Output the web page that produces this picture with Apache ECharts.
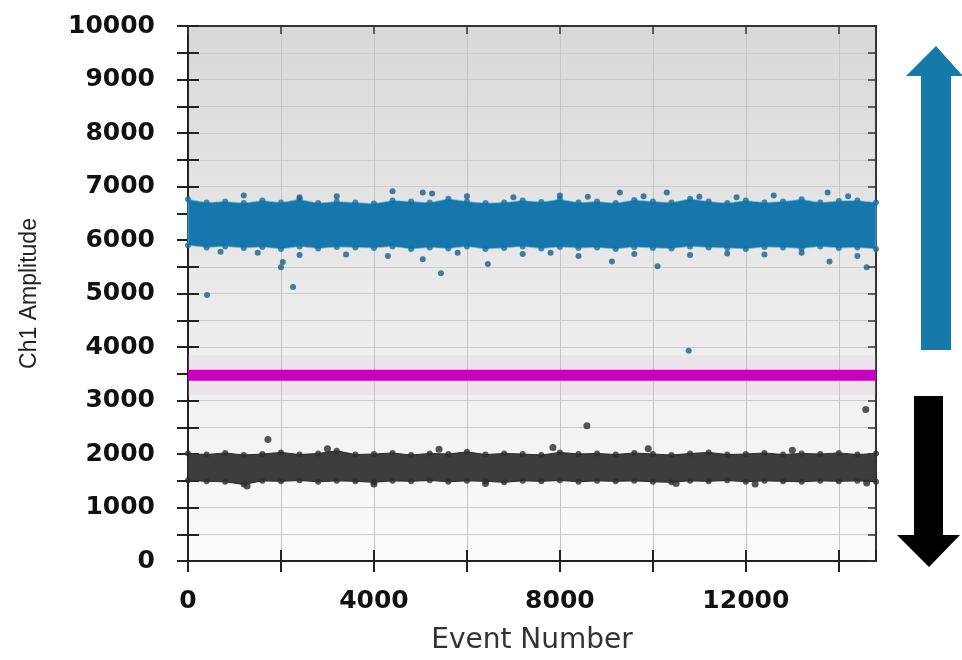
<!DOCTYPE html>
<html>
<head>
<meta charset="utf-8">
<script src="https://cdn.jsdelivr.net/npm/echarts@6/dist/echarts.min.js"></script>
<style>
html,body{margin:0;padding:0;background:#fff;}
#chart{width:962px;height:660px;}
</style>
</head>
<body>
<div id="chart"></div>
<script>
// ---- data ----
const eventBins = [0,400,800,1200,1600,2000,2400,2800,3200,3600,4000,4400,4800,5200,5600,6000,6400,6800,7200,7600,8000,8400,8800,9200,9600,10000,10400,10800,11200,11600,12000,12400,12800,13200,13600,14000,14400,14800];
// positive (blue) droplet cluster envelope
const blueTop    = [6760,6700,6720,6690,6740,6700,6760,6690,6720,6700,6680,6740,6720,6700,6770,6720,6690,6700,6740,6710,6760,6700,6720,6690,6750,6720,6700,6770,6720,6690,6740,6700,6720,6760,6700,6730,6740,6700];
const blueBottom = [5900,5860,5880,5850,5870,5830,5880,5840,5870,5860,5850,5880,5830,5860,5840,5880,5830,5850,5880,5840,5870,5850,5860,5830,5870,5850,5840,5880,5860,5850,5830,5870,5860,5840,5880,5850,5860,5830];
// negative (black) droplet cluster envelope
const blackTop    = [2010,1990,2020,1980,2000,2030,1990,2010,2060,1990,2000,2020,1980,2010,2000,2040,1990,2010,2000,1980,2030,2000,2010,1990,2020,2000,1980,2010,2030,1990,2000,2020,1990,2010,2000,2020,1990,2010];
const blackBottom = [1510,1490,1480,1430,1500,1490,1510,1480,1500,1490,1470,1500,1490,1510,1480,1500,1490,1470,1500,1490,1510,1480,1500,1490,1500,1480,1470,1500,1490,1510,1480,1500,1490,1480,1500,1490,1500,1480];
// scattered single droplets outside the dense bands
const blueOutX = [1200,2400,3200,4400,5050,5250,6000,7000,8000,8600,9290,9800,10300,11000,11800,12600,13760,14200,
                  410,700,1500,2000,2040,2260,2400,3400,4300,5050,5440,5800,6450,7200,7800,8400,9120,9600,10100,10800,11600,12400,13200,13800,14600,14400,10770];
const blueOutY = [6830,6800,6820,6910,6890,6870,6820,6800,6830,6810,6890,6820,6890,6810,6800,6830,6890,6820,
                  4970,5780,5760,5490,5590,5120,5720,5730,5700,5640,5380,5760,5550,5740,5760,5700,5600,5740,5510,5720,5750,5730,5760,5600,5490,5700,3930];
const blackOutX = [1720,7850,8580,14580,5400,9900,13000,3000,1270,4000,6400,10500,12200,14600];
const blackOutY = [2270,2120,2530,2830,2090,2100,2070,2100,1400,1440,1450,1450,1440,1460];
// threshold
const thresholdValue = 3470;
const xTickLabels = [0,4000,8000,12000];
const yTickLabels = [0,1000,2000,3000,4000,5000,6000,7000,8000,9000,10000];

const X_MAX = 14800;

function bandSeries(top, bottom, fill, stroke) {
  return {
    type: 'custom',
    xAxisIndex: 0, yAxisIndex: 0,
    data: eventBins.map((x, i) => [x, top[i], bottom[i]]),
    encode: { x: 0, y: [1, 2] },
    silent: true,
    z: 3,
    renderItem: function (params, api) {
      if (params.dataIndex !== 0) return null;
      const pts = [];
      for (let i = 0; i < eventBins.length; i++) pts.push(api.coord([eventBins[i], top[i]]));
      for (let i = eventBins.length - 1; i >= 0; i--) pts.push(api.coord([eventBins[i], bottom[i]]));
      return { type: 'polygon', shape: { points: pts }, style: { fill: fill, stroke: stroke, lineWidth: 1 } };
    }
  };
}
function edgeDots(top, bottom, color) {
  const d = [];
  eventBins.forEach((x, i) => { d.push([x, top[i]]); d.push([x, bottom[i]]); });
  return { type: 'scatter', data: d, symbolSize: 6, z: 4, silent: true,
           itemStyle: { color: color } };
}

const chart = echarts.init(document.getElementById('chart'), null, { renderer: 'canvas' });
const labelFont = { fontFamily: 'DejaVu Sans', fontWeight: 'bold', fontSize: 25, color: '#111' };
const tickStyle = { color: '#222', width: 2 };

chart.setOption({
  animation: false,
  backgroundColor: '#ffffff',
  grid: {
    left: 188, right: 86, top: 26, bottom: 97,
    show: true,
    borderWidth: 0,
    backgroundColor: new echarts.graphic.LinearGradient(0, 0, 0, 1, [
      { offset: 0, color: '#d8d8d8' },
      { offset: 0.55, color: '#ececec' },
      { offset: 1, color: '#fbfbfb' }
    ])
  },
  xAxis: [
    { type: 'value', position: 'bottom', min: 0, max: X_MAX, interval: 2000,
      name: 'Event Number', nameLocation: 'middle', nameGap: 66,
      nameTextStyle: { fontFamily: 'DejaVu Sans', fontSize: 28, color: '#333' },
      axisLine: { show: true, lineStyle: { color: '#222', width: 2 } },
      axisTick: { show: true, inside: false, length: 11, lineStyle: tickStyle },
      axisLabel: Object.assign({ margin: 28, showMaxLabel: false,
        formatter: v => (xTickLabels.indexOf(v) >= 0 ? String(v) : '') }, labelFont),
      splitLine: { show: true, lineStyle: { color: '#c4c4c4', width: 1 } } },
    { type: 'value', position: 'bottom', min: 0, max: X_MAX, interval: 2000,
      axisLine: { show: false }, axisTick: { show: true, inside: true, length: 11, lineStyle: tickStyle },
      axisLabel: { show: false }, splitLine: { show: false } },
    { type: 'value', position: 'top', min: 0, max: X_MAX, interval: 2000,
      axisLine: { show: true, onZero: false, lineStyle: { color: '#333', width: 2 } },
      axisTick: { show: true, inside: true, length: 8, lineStyle: { color: '#333', width: 1.5 } },
      axisLabel: { show: false }, splitLine: { show: false } }
  ],
  yAxis: [
    { type: 'value', position: 'left', min: 0, max: 10000, interval: 500,
      name: 'Ch1 Amplitude', nameLocation: 'middle', nameGap: 147, nameRotate: 90,
      nameTextStyle: { fontFamily: 'Liberation Sans', fontSize: 23, color: '#222' },
      axisLine: { show: true, lineStyle: { color: '#222', width: 2 } },
      axisTick: { show: true, inside: false, length: 11, lineStyle: tickStyle },
      axisLabel: Object.assign({ margin: 33,
        formatter: v => (yTickLabels.indexOf(v) >= 0 ? String(v) : '') }, labelFont),
      splitLine: { show: true, lineStyle: { color: '#cccccc', width: 1 } } },
    { type: 'value', position: 'left', min: 0, max: 10000, interval: 500,
      axisLine: { show: false }, axisTick: { show: true, inside: true, length: 11, lineStyle: tickStyle },
      axisLabel: { show: false }, splitLine: { show: false } },
    { type: 'value', position: 'right', min: 0, max: 10000, interval: 500,
      axisLine: { show: true, onZero: false, lineStyle: { color: '#333', width: 2 } },
      axisTick: { show: true, inside: true, length: 8, lineStyle: { color: '#333', width: 1.5 } },
      axisLabel: { show: false }, splitLine: { show: false } }
  ],
  series: [
    // soft glow around the threshold
    { type: 'line', data: [[0, thresholdValue], [X_MAX, thresholdValue]], symbol: 'none', z: 2, silent: true,
      lineStyle: { color: 'rgba(230,170,230,0.18)', width: 40 } },
    { type: 'line', data: [[0, thresholdValue], [X_MAX, thresholdValue]], symbol: 'none', z: 5, silent: true,
      lineStyle: { color: '#c400be', width: 11 } },
    bandSeries(blueTop, blueBottom, '#1777ad', 'rgba(120,200,235,0.7)'),
    edgeDots(blueTop, blueBottom, '#166f9f'),
    { type: 'scatter', data: blueOutX.map((x, i) => [x, blueOutY[i]]), symbolSize: 6, z: 4, silent: true,
      itemStyle: { color: '#1a5f86' } },
    bandSeries(blackTop, blackBottom, '#3d3d3d', '#2a2a2a'),
    edgeDots(blackTop, blackBottom, '#2e2e2e'),
    { type: 'scatter', data: blackOutX.map((x, i) => [x, blackOutY[i]]), symbolSize: 7, z: 4, silent: true,
      itemStyle: { color: '#2a2a2a' } }
  ],
  graphic: [
    { type: 'polygon', silent: true,
      shape: { points: [[921,350],[951,350],[951,76],[963,76],[936,46],[906,76],[921,76]] },
      style: { fill: '#157aa8' } },
    { type: 'polygon', silent: true,
      shape: { points: [[914,396],[943,396],[943,535],[960,535],[929,567],[897,535],[914,535]] },
      style: { fill: '#000000' } }
  ]
});
</script>
</body>
</html>
